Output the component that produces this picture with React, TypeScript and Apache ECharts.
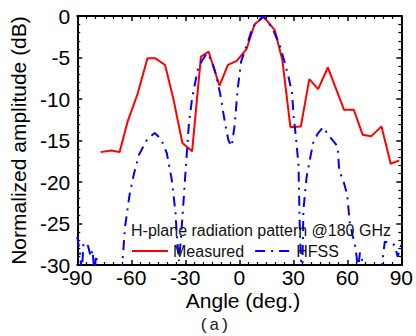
import React, { useEffect, useRef } from "react";
import * as echarts from "echarts";

const xTicks = [-90, -60, -30, 0, 30, 60, 90];
const yTicks = [-30, -25, -20, -15, -10, -5, 0];

const measuredAngle = [-77, -71, -66.5, -62, -56.5, -51, -46.6, -41.2, -36.7, -31.6, -26.2, -21.3, -17, -11, -6.3, -1.4, 4, 8.5, 13.6, 19.7, 23.9, 28.4, 34.2, 38.9, 43.8, 49.2, 58.2, 63.6, 68.5, 73.2, 79, 84.1, 88.9];
const measuredDb = [-16.4, -16.2, -16.4, -12.7, -9.4, -5.1, -5.1, -5.9, -9.9, -15.3, -16.3, -4.9, -4.3, -8.4, -5.9, -5.4, -4.0, -1.0, -0.1, -1.7, -5.3, -13.4, -13.3, -7.6, -8.8, -6.2, -11.3, -11.3, -14.3, -14.5, -13.3, -17.8, -17.4];

const hfssAngle = [-90, -88.5, -87.5, -86.5, -84, -82.5, -81.5, -80.5, -79.5, -78.5, -72, -65.5, -64.5, -63.5, -61, -58.5, -55.7, -51, -47, -43.5, -40.3, -37.6, -35.5, -34.5, -33.5, -32.5, -31.5, -30, -28, -26.2, -23.1, -20.8, -18, -15.5, -13, -10.5, -8, -6, -4.2, -2.5, -1, 1, 3, 5, 7.5, 10, 13, 15.5, 18.4, 22.1, 25.1, 27.5, 29.3, 30.2, 31.6, 32.9, 33.5, 34.2, 35, 35.6, 37.4, 39.2, 41, 43.5, 46.5, 50.1, 54.6, 55.5, 58, 60, 61.3, 63, 64.5, 66, 67, 68, 69, 75, 79, 80, 80.8, 83.5, 86.2, 88, 89, 90];
const hfssDb = [-26.6, -28.5, -31, -27.3, -27.7, -29, -28.2, -31, -28.8, -31, -45, -31, -28.5, -25.5, -21.6, -19, -16.7, -14.8, -14.1, -14.8, -16.5, -19.6, -23.5, -27, -29.5, -27, -24, -19.2, -13, -9.9, -6.5, -5.4, -4.5, -5.3, -7, -9.5, -12.8, -15, -15.7, -13, -9, -5.5, -4.2, -3, -1.3, -0.8, 0, -0.6, -1.5, -3.3, -5.5, -7.5, -9.3, -12.1, -14.9, -18, -24.6, -29.4, -31, -23.4, -19.4, -17.3, -15.3, -14.2, -13.4, -14.5, -15.7, -18.6, -20, -21.6, -24.8, -26.5, -27.8, -30.5, -28.5, -29, -31, -45, -31, -28.6, -27.2, -27.3, -27.6, -29, -28.2, -27.5];

const seriesNames = ["Measured", "HFSS"];
const titleText = "H-plane radiation pattern @180 GHz";
const xAxisName = "Angle (deg.)";
const yAxisName = "Normalized amplitude (dB)";
const panelLabel = "(a)";

const FONT = "'Liberation Sans', Arial, sans-serif";

export default function App() {
  const ref = useRef<HTMLDivElement>(null);
  useEffect(() => {
    if (!ref.current) return;
    const chart = echarts.init(ref.current, undefined, { renderer: "svg" });
    const axisLine = { show: true, onZero: false, lineStyle: { color: "#000", width: 2 } };
    const axisTick = { show: true, inside: true, length: 5, lineStyle: { color: "#000", width: 1.5 } };
    const minorTickX = { show: true, splitNumber: 6, length: 3, lineStyle: { color: "#000", width: 1.2 } };
    const minorTickY = { show: true, splitNumber: 5, length: 3, lineStyle: { color: "#000", width: 1.2 } };
    const xBase = { type: "value", min: xTicks[0], max: xTicks[xTicks.length - 1], interval: 30, splitLine: { show: false }, axisLine, axisTick, minorTick: minorTickX };
    const yBase = { type: "value", min: yTicks[0], max: yTicks[yTicks.length - 1], interval: 5, splitLine: { show: false }, axisLine, axisTick, minorTick: minorTickY };
    chart.setOption({
      animation: false,
      backgroundColor: "#fff",
      title: {
        text: titleText,
        left: 131,
        top: 222,
        padding: 0,
        textStyle: { fontFamily: FONT, fontSize: 16, fontWeight: "normal", color: "#111" },
      },
      legend: {
        data: seriesNames,
        left: 131,
        top: 243,
        padding: 0,
        itemWidth: 36,
        itemHeight: 14,
        itemGap: 10,
        itemStyle: { opacity: 0 },
        textStyle: { fontFamily: FONT, fontSize: 16, color: "#111" },
      },
      grid: { left: 75, right: 9, top: 16, bottom: 71 },
      xAxis: [
        {
          ...xBase,
          position: "bottom",
          axisLabel: { fontFamily: FONT, fontSize: 21, color: "#000", margin: 5, lineHeight: 14 },
        },
        { ...xBase, position: "top", axisLabel: { show: false } },
      ],
      yAxis: [
        {
          ...yBase,
          position: "left",
          name: yAxisName,
          nameLocation: "middle",
          nameGap: 40,
          nameTextStyle: { fontFamily: FONT, fontSize: 21, color: "#000" },
          axisLabel: { fontFamily: FONT, fontSize: 21, color: "#000", margin: 7, lineHeight: 10 },
        },
        { ...yBase, position: "right", axisLabel: { show: false } },
      ],
      graphic: [
        {
          type: "text",
          x: 243,
          y: 300,
          style: { text: xAxisName, fontFamily: FONT, fontSize: 21, fill: "#000", align: "center", verticalAlign: "middle" },
        },
        {
          type: "text",
          x: 199,
          y: 325,
          style: { text: panelLabel, fontFamily: "'Liberation Mono', monospace", fontSize: 17, fill: "#222", verticalAlign: "middle" },
        },
      ],
      series: [
        {
          name: seriesNames[0],
          type: "line",
          data: measuredAngle.map((a, i) => [a, measuredDb[i]]),
          symbol: "none",
          clip: true,
          lineStyle: { color: "#ff0000", width: 2 },
          itemStyle: { color: "#ff0000" },
        },
        {
          name: seriesNames[1],
          type: "line",
          data: hfssAngle.map((a, i) => [a, hfssDb[i]]),
          symbol: "none",
          clip: true,
          lineStyle: { color: "#0000ff", width: 2, type: [10, 6, 2, 6] },
          itemStyle: { color: "#0000ff" },
        },
      ],
    });
    return () => chart.dispose();
  }, []);
  return <div ref={ref} style={{ width: 416, height: 336, position: "absolute", left: 0, top: 0 }} />;
}
